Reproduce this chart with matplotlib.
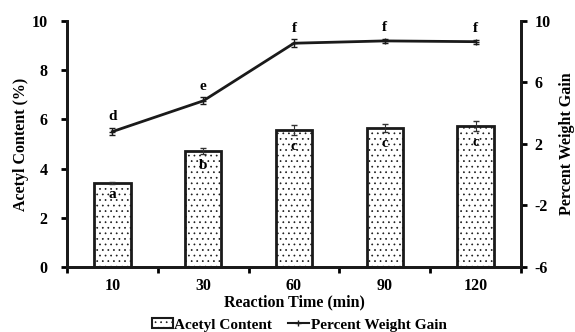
import matplotlib
matplotlib.use('Agg')
import matplotlib.pyplot as plt
from matplotlib.lines import Line2D
from matplotlib.patches import Patch

plt.rcParams['font.family'] = 'Liberation Serif'
plt.rcParams['font.weight'] = 'bold'
plt.rcParams['axes.labelweight'] = 'bold'
plt.rcParams['axes.unicode_minus'] = False
plt.rcParams['hatch.color'] = '#d2d2d2'
plt.rcParams['hatch.linewidth'] = 0.5

times = ['10', '30', '60', '90', '120']
acetyl = [3.43, 4.72, 5.57, 5.63, 5.72]
acetyl_err = [0.04, 0.12, 0.2, 0.16, 0.2]
acetyl_grp = ['a', 'b', 'c', 'c', 'c']
wgain = [2.8, 4.8, 8.55, 8.7, 8.65]
wgain_err = [0.25, 0.22, 0.25, 0.15, 0.12]
wgain_grp = ['d', 'e', 'f', 'f', 'f']

LW = 2.0
FS = 11.5

fig = plt.figure(figsize=(5.75, 3.32), dpi=100)
ax = fig.add_axes([0.1165, 0.196, 0.7895, 0.741])
ax2 = ax.twinx()

x = range(1, len(times) + 1)
ax.bar(x, acetyl, width=0.4, color='white', edgecolor='#1a1a1a',
       linewidth=LW, hatch='...', zorder=2)
ax.errorbar(x, acetyl, yerr=acetyl_err, fmt='none', ecolor='#333333',
            elinewidth=0.8, capsize=2, zorder=3)
for xi, v, e, g in zip(x, acetyl, acetyl_err, acetyl_grp):
    ax.text(xi, v - e - 0.2, g, ha='center', va='top', fontsize=FS - 0.5, zorder=4)

ax2.errorbar(x, wgain, yerr=wgain_err, color='#1a1a1a', linewidth=2.0,
             marker='+', markersize=4, elinewidth=0.8, capsize=2)
for xi, v, e, g in zip(x, wgain, wgain_err, wgain_grp):
    ax2.text(xi, v + e + 0.3, g, ha='center', va='bottom', fontsize=FS - 0.5)

ax.set_xlim(0.5, 5.5)
ax.set_ylim(0, 10)
ax.set_yticks([0, 2, 4, 6, 8, 10])
ax2.set_ylim(-6, 10)
ax2.set_yticks([-6, -2, 2, 6, 10])

ax.set_xticks(list(x))
ax.set_xticklabels(times)
ax.set_xticks([0.5, 1.5, 2.5, 3.5, 4.5, 5.5], minor=True)
ax.tick_params(axis='x', which='major', length=0, pad=8, labelsize=FS)
ax.tick_params(axis='x', which='minor', length=4, width=LW, direction='out')
ax.tick_params(axis='y', length=4, width=LW, labelsize=FS, pad=10)
ax2.tick_params(axis='y', length=4, width=LW, labelsize=FS, pad=6)

for a in (ax, ax2):
    a.spines['top'].set_visible(False)
    for s in ('left', 'right', 'bottom'):
        a.spines[s].set_linewidth(LW)
        a.spines[s].set_color('#1a1a1a')

ax.set_xlabel('Reaction Time (min)', fontsize=FS, labelpad=0)
ax.set_ylabel('Acetyl Content (%)', fontsize=FS, labelpad=2)
ax2.set_ylabel('Percent Weight Gain', fontsize=FS, labelpad=6)

handles = [Patch(facecolor='white', edgecolor='#1a1a1a', linewidth=1.5, hatch='...'),
           Line2D([], [], color='#1a1a1a', linewidth=1.5, marker='+', markersize=4)]
fig.legend(handles, ['Acetyl Content', 'Percent Weight Gain'], loc='lower center',
           bbox_to_anchor=(0.52, -0.04), ncol=2, frameon=False, fontsize=11,
           handlelength=1.4, handleheight=0.6, handletextpad=0.1, columnspacing=1.0)

fig.savefig('out.png', dpi=100)
